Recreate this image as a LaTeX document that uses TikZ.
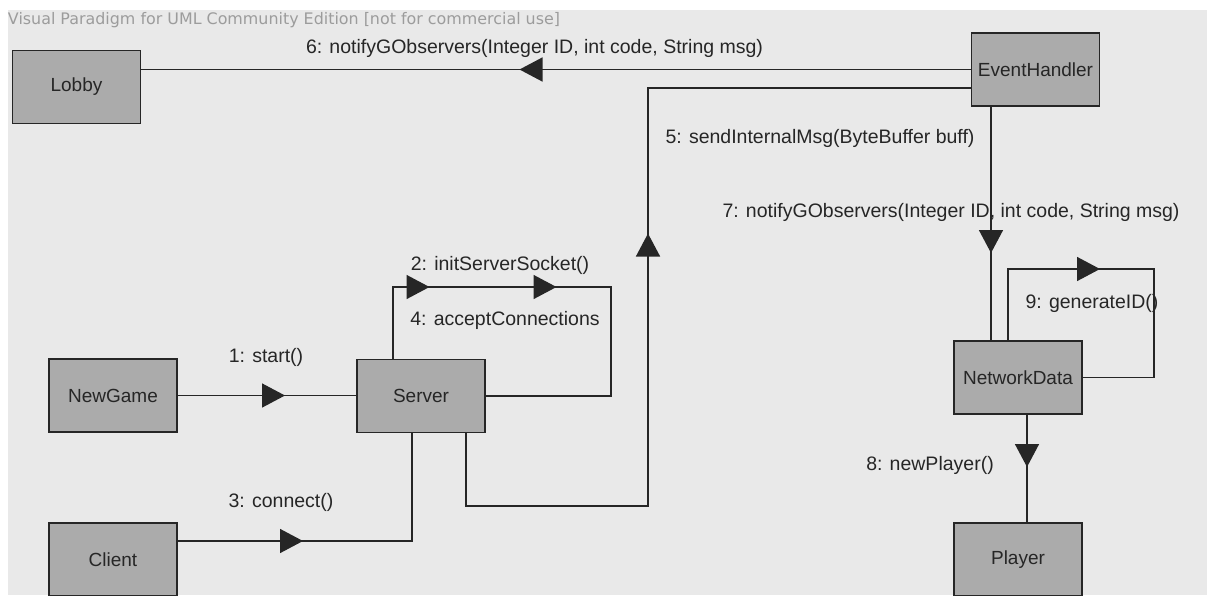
\documentclass[tikz,border=0pt]{standalone}
\usepackage{fontspec}
\usepackage{graphicx}
\setmainfont{Liberation Sans}
\newfontfamily\wmfont{DejaVu Sans}
\usetikzlibrary{arrows.meta,decorations.markings,calc}
\definecolor{bgc}{HTML}{E9E9E9}
\definecolor{boxc}{HTML}{ABABAB}
\definecolor{linec}{HTML}{262626}
\definecolor{wmc}{HTML}{9C9C9C}
\tikzset{
  cls/.style={draw=linec, line width=1.8pt, fill=boxc, minimum width=128pt, minimum height=73pt,
    inner sep=0pt, outer sep=0pt, font=\fontsize{19}{22}\selectfont, text=black!85},
  conn/.style={draw=linec, line width=1.5pt},
  lbl/.style={font=\fontsize{19.5}{22}\selectfont, text=black!85, inner sep=0pt},
  tipat/.style={postaction={decorate, decoration={markings,
      mark=at position #1 with {\arrow{Triangle[length=23pt,width=24pt]}}}}},
}
\begin{document}
\begin{tikzpicture}[x=1pt,y=-1pt]
\useasboundingbox (0,0) rectangle (1207,595);
\fill[white] (0,0) rectangle (1207,595);
\fill[bgc] (8,10) rectangle (1207,595);
\node[wmc, inner sep=0pt] (wm) at (284,20) {\resizebox{552pt}{!}{\wmfont Visual Paradigm for UML Community Edition [not for commercial use]}};

\node[cls] (Lobby) at (76.5,87) {Lobby};
\node[cls] (EH) at (1035.5,69.5) {EventHandler};
\node[cls] (NewGame) at (113,395.5) {NewGame};
\node[cls] (Server) at (421,396) {Server};
\node[cls] (Client) at (113,559.5) {Client};
\node[cls] (ND) at (1018,377.5) {NetworkData};
\node[cls] (Player) at (1018,559.5) {Player};

\coordinate (c5) at (648,506);
\coordinate (c9) at (1154,269);
\coordinate (c2) at (611,287);

% 6
\draw[conn, tipat=452pt] (EH.west) -- (EH.west -| Lobby.east);
% 5
\draw[conn, tipat=528pt] ([xshift=45pt]Server.south) |- (c5) |- ([yshift=-18.5pt]EH.west);
% 7
\draw[conn, tipat=147pt] ([xshift=-44.5pt]EH.south) -- ([xshift=-44.5pt]EH.south |- ND.north);
% 9
\draw[conn, tipat=164pt] ([xshift=-10pt]ND.north) |- (c9) |- (ND.east);
% 8
\draw[conn, tipat=53pt] ([xshift=9pt]ND.south) -- ([xshift=9pt]ND.south |- Player.north);
% 1
\draw[conn, tipat=108pt] (NewGame.east) -- (NewGame.east -| Server.west);
% 3
\draw[conn, tipat=126pt] ([yshift=18.5pt]Client.east) -| ([xshift=-9pt]Server.south);
% 2 / 4
\draw[conn, tipat=109pt, tipat=236pt] ([xshift=-28pt]Server.north) |- (c2) |- (Server.east);

\node[lbl] (l6) at (534.5,48) {6: notifyGObservers(Integer ID, int code, String msg)};
\node[lbl] (l5) at (820,138) {5: sendInternalMsg(ByteBuffer buff)};
\node[lbl] (l7) at (951,212) {7: notifyGObservers(Integer ID, int code, String msg)};
\node[lbl] (l2) at (500,265) {2: initServerSocket()};
\node[lbl] (l4) at (505,320) {4: acceptConnections};
\node[lbl] (l1) at (266,357) {1: start()};
\node[lbl] (l3) at (281,502) {3: connect()};
\node[lbl] (l9) at (1092,303) {9: generateID()};
\node[lbl] (l8) at (930,465) {8: newPlayer()};
\end{tikzpicture}
\end{document}
